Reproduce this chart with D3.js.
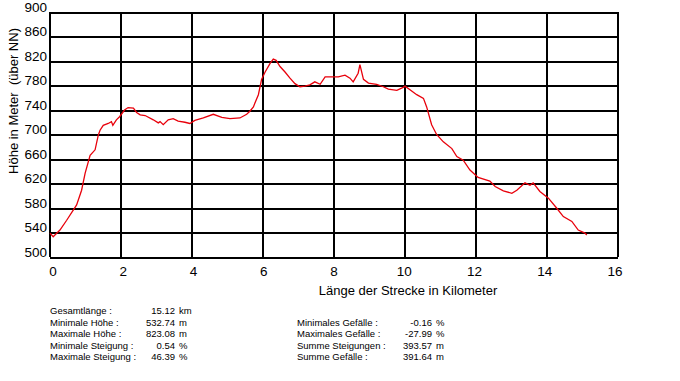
<!DOCTYPE html>
<html>
<head>
<meta charset="utf-8">
<script src="https://cdn.jsdelivr.net/npm/d3@7"></script>
<style>
body { margin: 0; background: #fff; }
svg { display: block; font-family: "Liberation Sans", Arial, sans-serif; }
</style>
</head>
<body>
<svg id="chart"></svg>
<script>
var width = 680, height = 381;
var margin = ({top: 12, right: 62, bottom: 124, left: 50});

// Profile: distance (km) and elevation (m)
var km = [0.00, 0.09, 0.28, 0.47, 0.75, 0.89, 0.99, 1.13, 1.27, 1.36, 1.41, 1.50, 1.64, 1.73, 1.77, 1.87, 1.96,
	2.10, 2.20, 2.35, 2.44, 2.54, 2.68, 2.91, 3.05, 3.10, 3.19, 3.33, 3.47, 3.61, 3.80, 3.94, 4.08, 4.32, 4.60,
	4.84, 5.07, 5.35, 5.54, 5.63, 5.73, 5.77, 5.87, 5.96, 6.06, 6.20, 6.29, 6.37, 6.48, 6.62, 6.76, 6.90, 7.04,
	7.18, 7.32, 7.46, 7.61, 7.75, 7.94, 8.12, 8.31, 8.45, 8.54, 8.68, 8.73, 8.83, 8.97, 9.20, 9.39, 9.53, 9.77,
	9.95, 10.00, 10.14, 10.33, 10.52, 10.61, 10.75, 10.89, 11.08, 11.32, 11.46, 11.64, 11.83, 12.06, 12.39,
	12.54, 12.77, 13.01, 13.15, 13.38, 13.52, 13.61, 13.80, 14.04, 14.27, 14.46, 14.70, 14.88, 15.07, 15.12];
var hoehe = [539, 533, 544, 560, 585, 609, 637, 666, 675, 699, 707, 715, 718, 721, 715, 724, 729,
	740, 744, 743, 736, 732, 731, 724, 719, 721, 716, 724, 726, 722, 720, 718, 723, 727, 733,
	728, 726, 727, 733, 738, 745, 751, 765, 790, 802, 816, 823, 821, 811, 802, 792, 783, 778,
	779, 781, 786, 782, 794, 794, 794, 797, 792, 786, 800, 814, 790, 784, 782, 778, 774, 772,
	777, 779, 773, 765, 759, 745, 716, 700, 688, 677, 664, 658, 642, 630, 624,
	615, 608, 604, 609, 621, 617, 621, 607, 596, 580, 566, 558, 544, 539, 536];

var xTicks = [0, 2, 4, 6, 8, 10, 12, 14, 16];
var yTicks = [500, 540, 580, 620, 660, 700, 740, 780, 820, 860, 900];

// Summary table below the chart
var leftLabels = ["Gesamtlänge :", "Minimale Höhe :", "Maximale Höhe :", "Minimale Steigung :", "Maximale Steigung :"];
var leftValues = ["15.12", "532.74", "823.08", "0.54", "46.39"];
var leftUnits = ["km", "m", "m", "%", "%"];
var rightLabels = ["Minimales Gefälle :", "Maximales Gefälle :", "Summe Steigungen :", "Summe Gefälle :"];
var rightValues = ["-0.16", "-27.99", "393.57", "391.64"];
var rightUnits = ["%", "%", "m", "m"];

var data = km.map((k, i) => ({km: k, h: hoehe[i]}));

var svg = d3.select('#chart')
	.attr('width', width)
	.attr('height', height);

var x = d3.scaleLinear()
	.domain([0, 16])
	.range([margin.left, width - margin.right]);

var y = d3.scaleLinear()
	.domain([500, 900])
	.range([height - margin.bottom, margin.top]);

// horizontal grid + labels
var yAxis = g => g
	.attr('transform', 'translate(' + margin.left + ',0)')
	.call(d3.axisLeft(y).tickValues(yTicks).tickSize(-(width - margin.right - margin.left)).tickPadding(3))
	.call(g => g.select('.domain').remove())
	.call(g => g.selectAll('.tick line')
		.attr('stroke', '#000')
		.attr('stroke-width', 2)
		.attr('shape-rendering', 'crispEdges'))
	.call(g => g.selectAll('.tick text')
		.attr('font-size', 13.5)
		.attr('dy', -1)
		.attr('fill', '#000'));

svg.append('g').call(yAxis);
svg.selectAll('.tick text').attr('font-family', null);

// vertical grid
svg.append('g')
	.selectAll('line')
	.data(xTicks)
	.join('line')
		.attr('x1', d => x(d))
		.attr('x2', d => x(d))
		.attr('y1', y(900))
		.attr('y2', y(500))
		.attr('stroke', '#000')
		.attr('stroke-width', 2)
		.attr('shape-rendering', 'crispEdges');

// x tick labels (slightly spread like the original)
var xLab = d3.scaleLinear().domain([0, 16]).range([x(0) + 3, x(16) - 3]);
svg.append('g')
	.selectAll('text')
	.data(xTicks)
	.join('text')
		.attr('x', d => xLab(d))
		.attr('y', 276)
		.attr('text-anchor', 'middle')
		.attr('font-size', 13.5)
		.text(d => d);

// axis titles
svg.append('text')
	.attr('x', 408)
	.attr('y', 295)
	.attr('text-anchor', 'middle')
	.attr('font-size', 13)
	.text('Länge der Strecke in Kilometer');

svg.append('text')
	.attr('transform', 'translate(18,101) rotate(-90)')
	.attr('text-anchor', 'middle')
	.attr('font-size', 13)
	.style('white-space', 'pre')
	.text('Höhe in Meter  (über NN)');

// profile line
var line = d3.line()
	.x(d => x(d.km))
	.y(d => y(d.h));

svg.append('path')
	.attr('d', line(data))
	.attr('fill', 'none')
	.attr('stroke', '#e8000b')
	.attr('stroke-width', 1.3);

// summary table
var row = d3.scaleLinear().domain([0, 4]).range([314, 360]);
var stats = svg.append('g').attr('font-size', 9.5).attr('fill', '#000');

function table(labels, values, units, start, lx, vx) {
	labels.forEach((l, i) => {
		var ry = row(i + start);
		stats.append('text').attr('x', lx).attr('y', ry).text(l);
		stats.append('text').attr('x', vx).attr('y', ry).attr('text-anchor', 'end').text(values[i]);
		stats.append('text').attr('x', vx + 4).attr('y', ry).text(units[i]);
	});
}
table(leftLabels, leftValues, leftUnits, 0, 50, 175);
table(rightLabels, rightValues, rightUnits, 1, 297, 432);
</script>
</body>
</html>
